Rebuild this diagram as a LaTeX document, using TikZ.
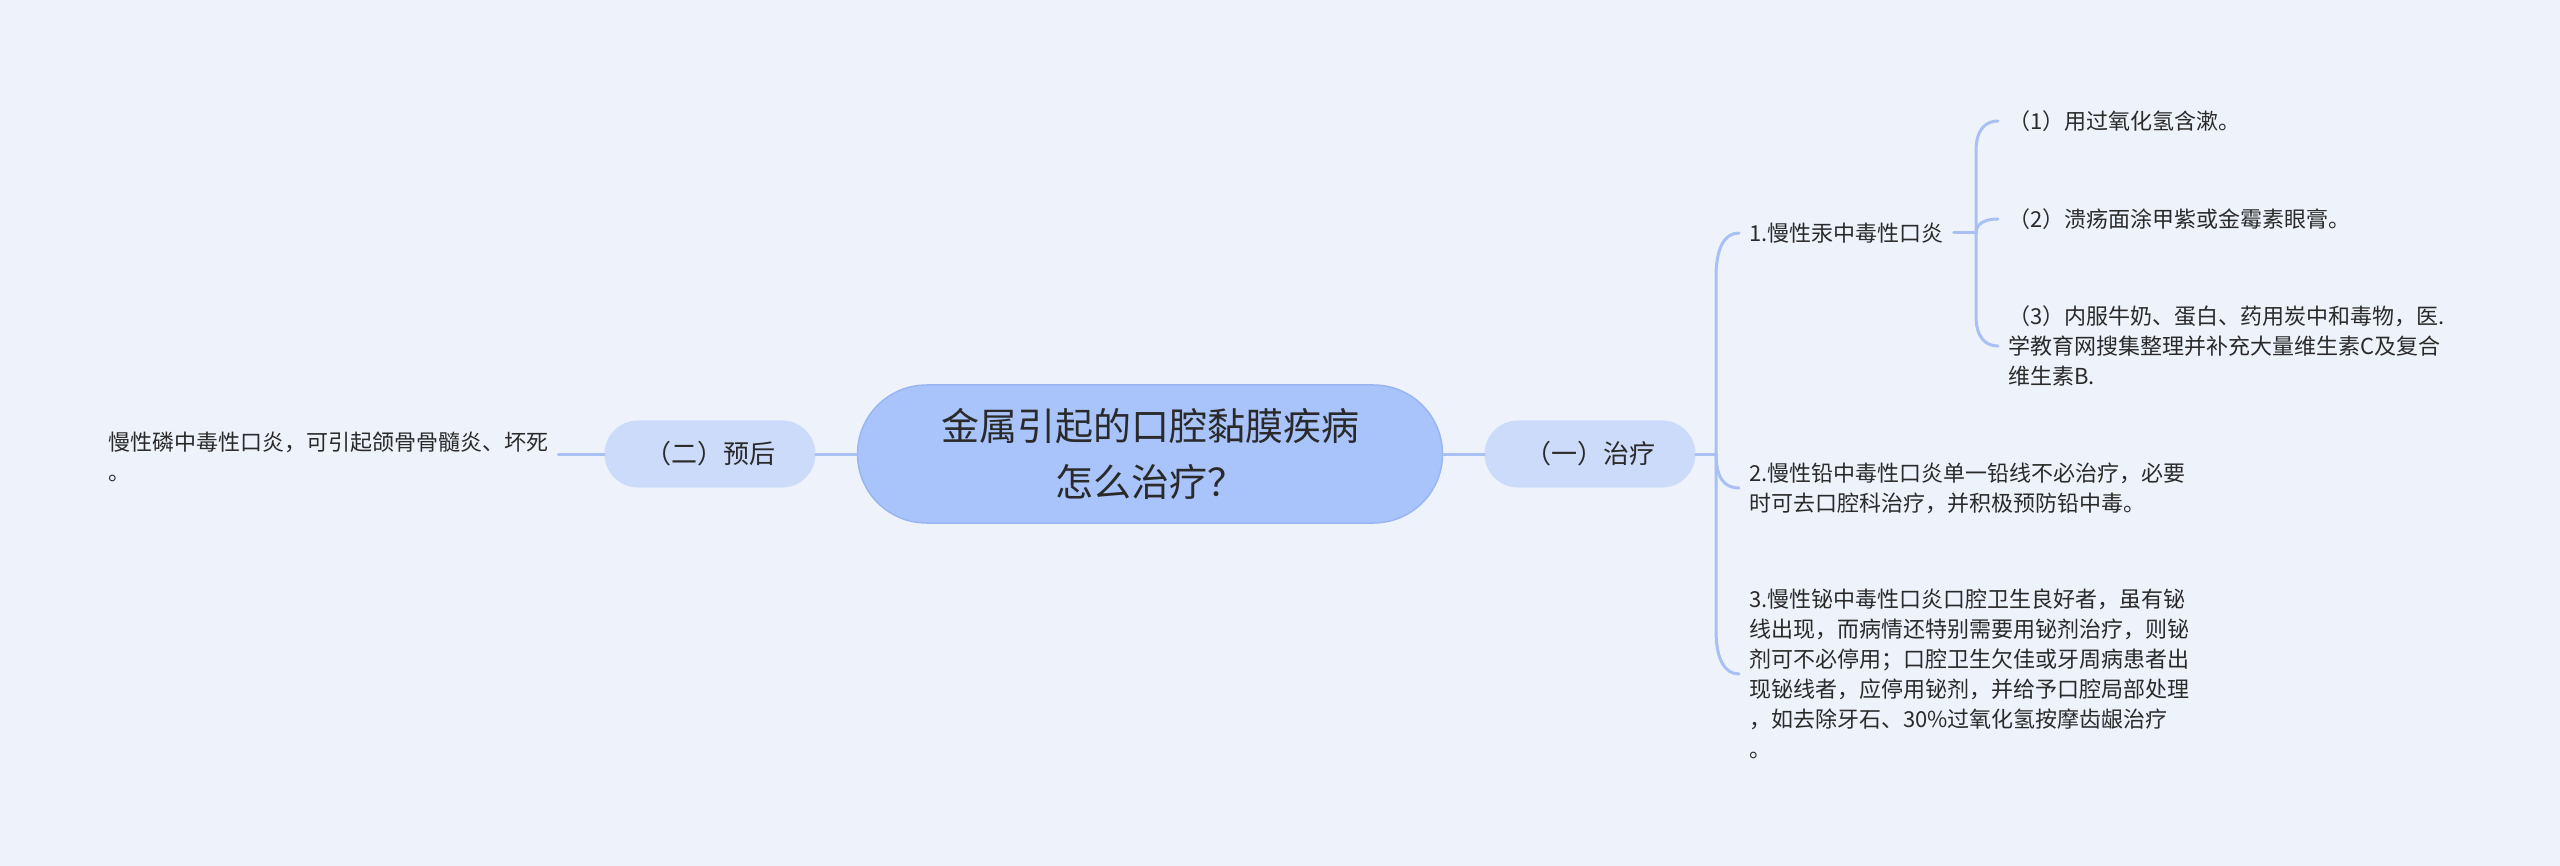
\documentclass[tikz,border=0pt]{standalone}
\usepackage{fontspec}
\setmainfont{Noto Sans CJK SC}
\usetikzlibrary{calc}
\definecolor{bg}{HTML}{EEF3FB}
\definecolor{mainfill}{HTML}{A9C4FB}
\definecolor{mainline}{HTML}{9AB6F2}
\definecolor{subfill}{HTML}{CCDBFA}
\definecolor{linkc}{HTML}{A8C0F3}
\definecolor{ink}{HTML}{2A2A2A}
\begin{document}
\begin{tikzpicture}[x=1pt,y=-1pt,
  rootbox/.style={draw=mainline, line width=1.5pt, fill=mainfill, rounded corners=69pt,
    minimum width=585pt, minimum height=138pt, align=center,
    font=\fontsize{38}{56}\selectfont, text=ink, inner sep=0pt},
  branchbox/.style={fill=subfill, rounded corners=33.5pt, minimum width=211pt,
    minimum height=67pt, font=\fontsize{26}{30}\selectfont, text=ink, inner sep=0pt},
  leafbox/.style={align=left, font=\fontsize{22}{30}\selectfont, text=ink,
    inner xsep=10pt, inner ysep=2pt, anchor=west},
  linkline/.style={draw=linkc, line width=3pt, line cap=round}]
\fill[bg] (0,0) rectangle (2560,866);
\useasboundingbox (0,0) rectangle (2560,866);

\node[rootbox] (root) at (1150,454) {金属引起的口腔黏膜疾病\\怎么治疗？};
\node[branchbox] (yi) at (1590,454) {（一）治疗};
\node[branchbox] (er) at (710,454) {（二）预后};
\node[leafbox] (p) at (98,457) {慢性磷中毒性口炎，可引起颌骨骨髓炎、坏死\\。};

\node[leafbox] (c1) at (1739,233) {1.慢性汞中毒性口炎};
\node[leafbox] (c2) at (1739,488) {2.慢性铅中毒性口炎单一铅线不必治疗，必要\\时可去口腔科治疗，并积极预防铅中毒。};
\node[leafbox] (c3) at (1739,674) {3.慢性铋中毒性口炎口腔卫生良好者，虽有铋\\线出现，而病情还特别需要用铋剂治疗，则铋\\剂可不必停用；口腔卫生欠佳或牙周病患者出\\现铋线者，应停用铋剂，并给予口腔局部处理\\，如去除牙石、30\%过氧化氢按摩齿龈治疗\\。};
\node[leafbox] (s1) at (1998,121) {（1）用过氧化氢含漱。};
\node[leafbox] (s2) at (1998,219) {（2）溃疡面涂甲紫或金霉素眼膏。};
\node[leafbox] (s3) at (1998,346) {（3）内服牛奶、蛋白、药用炭中和毒物，医.\\学教育网搜集整理并补充大量维生素C及复合\\维生素B.};

\coordinate (trunk) at (1716,454);
\coordinate (jn) at (1976,233);

\draw[linkline] (root.east) -- (yi.west);
\draw[linkline] (root.west) -- (er.east);
\draw[linkline] (er.west) -- (er.west -| p.east);
\draw[linkline] (yi.east) -- (trunk);
\draw[linkline] (trunk) -- ($(trunk |- c1.west)+(0,44)$) .. controls +(0,-30) and +(-14,0) .. (c1.west);
\draw[linkline] (trunk) .. controls +(0,22) and +(-16,0) .. (c2.west);
\draw[linkline] (trunk) -- ($(trunk |- c3.west)+(0,-44)$) .. controls +(0,30) and +(-14,0) .. (c3.west);
\draw[linkline] (c1.east) -- (jn);
\draw[linkline] (jn) -- ($(jn |- s1.west)+(0,30)$) .. controls +(0,-22) and +(-12,0) .. (s1.west);
\draw[linkline] (jn) .. controls +(0,-10) and +(-12,0) .. (s2.west);
\draw[linkline] (jn) -- ($(jn |- s3.west)+(0,-30)$) .. controls +(0,22) and +(-12,0) .. (s3.west);
\end{tikzpicture}
\end{document}
